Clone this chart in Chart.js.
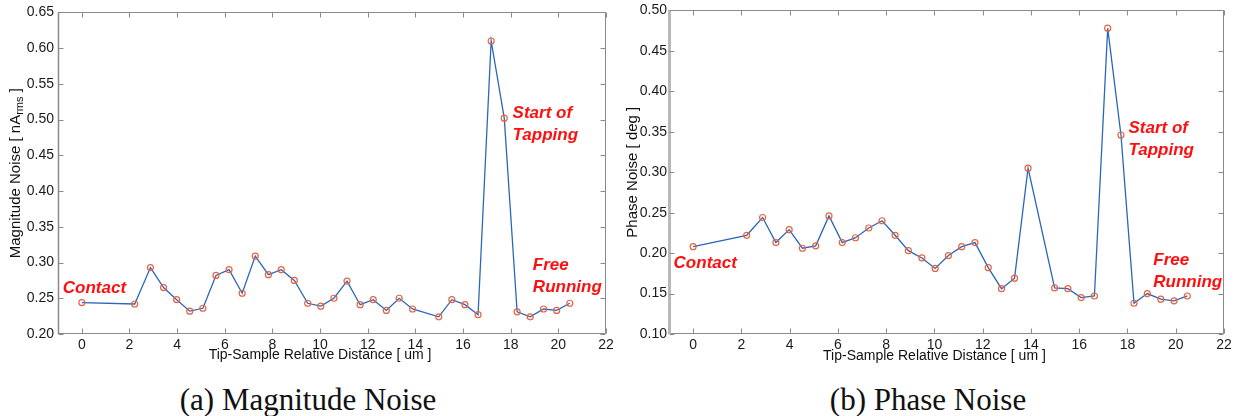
<!DOCTYPE html>
<html>
<head>
<meta charset="utf-8">
<script src="https://cdn.jsdelivr.net/npm/chart.js@4.4.1/dist/chart.umd.min.js"></script>
<style>
  html, body { margin: 0; padding: 0; background: #fff; width: 1241px; height: 416px; overflow: hidden; }
  .panel { position: absolute; top: 0; }
  #p1 { left: 0; }
  #p2 { left: 615px; }
  .cap {
    position: absolute; white-space: nowrap; transform: translateX(-50%);
    font-family: "Liberation Serif", "Times New Roman", serif; font-size: 31px; line-height: 31px; color: #111;
  }
</style>
</head>
<body>
<div class="panel" id="p1"><canvas id="c1" width="620" height="372"></canvas></div>
<div class="panel" id="p2"><canvas id="c2" width="626" height="372"></canvas></div>
<div class="cap" style="left:308px; top:384px;">(a) Magnitude Noise</div>
<div class="cap" style="left:928px; top:384px;">(b) Phase Noise</div>

<script>
// Tip-sample relative distance [um] for each measurement
const distance = [0, 2.22, 2.88, 3.43, 3.98, 4.53, 5.08, 5.63, 6.18, 6.73, 7.28, 7.83, 8.37, 8.92, 9.48,
  10.03, 10.58, 11.13, 11.68, 12.23, 12.78, 13.32, 13.88, 14.98, 15.53, 16.08, 16.63, 17.18, 17.73,
  18.27, 18.82, 19.38, 19.93, 20.48];

// Magnitude noise [nA rms]
const magnitudeNoise = [0.244, 0.242, 0.293, 0.265, 0.248, 0.232, 0.236, 0.282, 0.290, 0.257, 0.309,
  0.283, 0.290, 0.275, 0.243, 0.239, 0.250, 0.274, 0.241, 0.248, 0.233, 0.250, 0.235, 0.224, 0.248,
  0.241, 0.227, 0.610, 0.502, 0.231, 0.224, 0.235, 0.233, 0.243];

// Phase noise [deg]
const phaseNoise = [0.208, 0.222, 0.244, 0.213, 0.229, 0.206, 0.209, 0.246, 0.213, 0.219, 0.231,
  0.240, 0.222, 0.203, 0.194, 0.181, 0.197, 0.208, 0.213, 0.182, 0.156, 0.169, 0.305, 0.157, 0.156,
  0.145, 0.147, 0.478, 0.346, 0.138, 0.150, 0.143, 0.141, 0.147];

// Axis tick values
const xTicks = [0, 2, 4, 6, 8, 10, 12, 14, 16, 18, 20, 22];
const magTicks = [0.20, 0.25, 0.30, 0.35, 0.40, 0.45, 0.50, 0.55, 0.60, 0.65];
const phaseTicks = [0.10, 0.15, 0.20, 0.25, 0.30, 0.35, 0.40, 0.45, 0.50];

const SANS = '"Liberation Sans", Arial, sans-serif';

// Box frame, inward tick marks, axis titles and red annotations
const framePlugin = {
  id: 'frame',
  beforeDatasetsDraw(chart, args, o) {
    const { ctx, chartArea: a, scales } = chart;
    const L = Math.round(a.left) + 0.5, R = Math.round(a.right) - 0.5;
    const T = Math.round(a.top) + 0.5, B = Math.round(a.bottom) - 0.5;
    ctx.save();
    ctx.strokeStyle = '#8a8a8a';
    ctx.lineWidth = 1;
    ctx.beginPath();
    ctx.moveTo(L, T); ctx.lineTo(R, T); ctx.lineTo(R, B); ctx.lineTo(L, B);
    ctx.stroke();
    ctx.strokeStyle = o.leftColor;
    ctx.lineWidth = o.leftWidth;
    ctx.beginPath(); ctx.moveTo(L, T - 0.5); ctx.lineTo(L, B + 0.5); ctx.stroke();
    ctx.strokeStyle = '#8a8a8a';
    ctx.lineWidth = 1;
    const tl = 5;
    ctx.beginPath();
    scales.x.ticks.forEach(t => {
      const px = Math.round(scales.x.getPixelForValue(t.value)) + 0.5;
      ctx.moveTo(px, B); ctx.lineTo(px, B - tl);
      ctx.moveTo(px, T); ctx.lineTo(px, T + tl);
    });
    scales.y.ticks.forEach(t => {
      const py = Math.round(scales.y.getPixelForValue(t.value)) + 0.5;
      ctx.moveTo(L, py); ctx.lineTo(L + tl, py);
      ctx.moveTo(R, py); ctx.lineTo(R - tl, py);
    });
    ctx.stroke();
    ctx.restore();
  },
  afterDatasetsDraw(chart, args, o) {
    const { ctx, scales } = chart;
    ctx.save();
    ctx.fillStyle = '#ff1010';
    ctx.font = 'italic bold 17px ' + SANS;
    ctx.textAlign = 'left';
    ctx.textBaseline = 'middle';
    o.notes.forEach(n => {
      ctx.fillText(n.text, scales.x.getPixelForValue(n.x), scales.y.getPixelForValue(n.y));
    });
    ctx.restore();
  },
  afterDraw(chart, args, o) {
    const { ctx, chartArea: a, scales } = chart;
    ctx.save();
    ctx.fillStyle = '#111';
    // x-axis title
    ctx.font = '14px ' + SANS;
    ctx.textAlign = 'center';
    ctx.textBaseline = 'alphabetic';
    ctx.fillText(o.xTitle, scales.x.getPixelForValue(10), o.xTitleBaseline);
    // rotated y-axis title with optional subscript
    const cy = (a.top + a.bottom) / 2;
    ctx.translate(o.yTitleX, cy);
    ctx.rotate(-Math.PI / 2);
    ctx.textAlign = 'left';
    ctx.textBaseline = 'middle';
    const mainFont = '15px ' + SANS, subFont = '11px ' + SANS;
    ctx.font = mainFont; const w1 = ctx.measureText(o.yTitle[0]).width;
    ctx.font = subFont; const w2 = o.yTitle[1] ? ctx.measureText(o.yTitle[1]).width : 0;
    ctx.font = mainFont; const w3 = o.yTitle[2] ? ctx.measureText(o.yTitle[2]).width : 0;
    let x = -(w1 + w2 + w3) / 2;
    ctx.font = mainFont; ctx.fillText(o.yTitle[0], x, 0); x += w1;
    if (o.yTitle[1]) { ctx.font = subFont; ctx.fillText(o.yTitle[1], x, 4); x += w2; }
    if (o.yTitle[2]) { ctx.font = mainFont; ctx.fillText(o.yTitle[2], x, 0); }
    ctx.restore();
  }
};

function makeChart(id, values, yTicks, cfg) {
  return new Chart(document.getElementById(id), {
    type: 'scatter',
    data: {
      datasets: [{
        data: distance.map((d, i) => ({ x: d, y: values[i] })),
        showLine: true,
        borderColor: '#2a66bb',
        borderWidth: 1.3,
        pointRadius: 3,
        pointBorderWidth: 1.2,
        pointBorderColor: '#e8643f',
        pointBackgroundColor: 'rgba(0,0,0,0)',
        tension: 0
      }]
    },
    options: {
      responsive: false,
      devicePixelRatio: 1,
      animation: false,
      events: [],
      layout: { padding: { left: 0, right: cfg.padRight, top: cfg.padTop, bottom: 0 } },
      plugins: {
        legend: { display: false },
        tooltip: { enabled: false },
        frame: cfg.frame
      },
      scales: {
        x: {
          type: 'linear', min: -1, max: 22,
          afterBuildTicks: s => { s.ticks = xTicks.map(v => ({ value: v })); },
          afterFit: s => { s.height = cfg.xAxisHeight; },
          grid: { display: false, drawTicks: false },
          border: { display: false },
          ticks: {
            autoSkip: false, maxRotation: 0, padding: 3, color: '#1a1a1a',
            font: { family: SANS, size: 14 },
            callback: v => String(v)
          }
        },
        y: {
          type: 'linear', min: yTicks[0], max: yTicks[yTicks.length - 1],
          afterBuildTicks: s => { s.ticks = yTicks.map(v => ({ value: v })); },
          afterFit: s => { s.width = cfg.yAxisWidth; },
          grid: { display: false, drawTicks: false },
          border: { display: false },
          ticks: {
            autoSkip: false, padding: cfg.yTickPad, color: '#1a1a1a',
            font: { family: SANS, size: 14 },
            callback: v => v.toFixed(2)
          }
        }
      }
    },
    plugins: [framePlugin]
  });
}

makeChart('c1', magnitudeNoise, magTicks, {
  padRight: 14, padTop: 12, xAxisHeight: 38, yAxisWidth: 58, yTickPad: 4,
  frame: {
    leftColor: '#8a8a8a', leftWidth: 1.5,
    xTitle: 'Tip-Sample Relative Distance [ um ]', xTitleBaseline: 359,
    yTitle: ['Magnitude Noise [ nA', 'rms', ' ]'], yTitleX: 15.5,
    notes: [
      { text: 'Contact', x: -0.8, y: 0.264 },
      { text: 'Start of', x: 18.08, y: 0.509 },
      { text: 'Tapping', x: 18.08, y: 0.478 },
      { text: 'Free', x: 18.93, y: 0.296 },
      { text: 'Running', x: 18.93, y: 0.266 }
    ]
  }
});

makeChart('c2', phaseNoise, phaseTicks, {
  padRight: 17, padTop: 8, xAxisHeight: 38, yAxisWidth: 54, yTickPad: 2,
  frame: {
    leftColor: '#b8b8b8', leftWidth: 3,
    xTitle: 'Tip-Sample Relative Distance [ um ]', xTitleBaseline: 360,
    yTitle: ['Phase Noise [ deg ]'], yTitleX: 17.5,
    notes: [
      { text: 'Contact', x: -0.81, y: 0.187 },
      { text: 'Start of', x: 18.04, y: 0.354 },
      { text: 'Tapping', x: 18.04, y: 0.327 },
      { text: 'Free', x: 19.07, y: 0.191 },
      { text: 'Running', x: 19.07, y: 0.164 }
    ]
  }
});
</script>
</body>
</html>
